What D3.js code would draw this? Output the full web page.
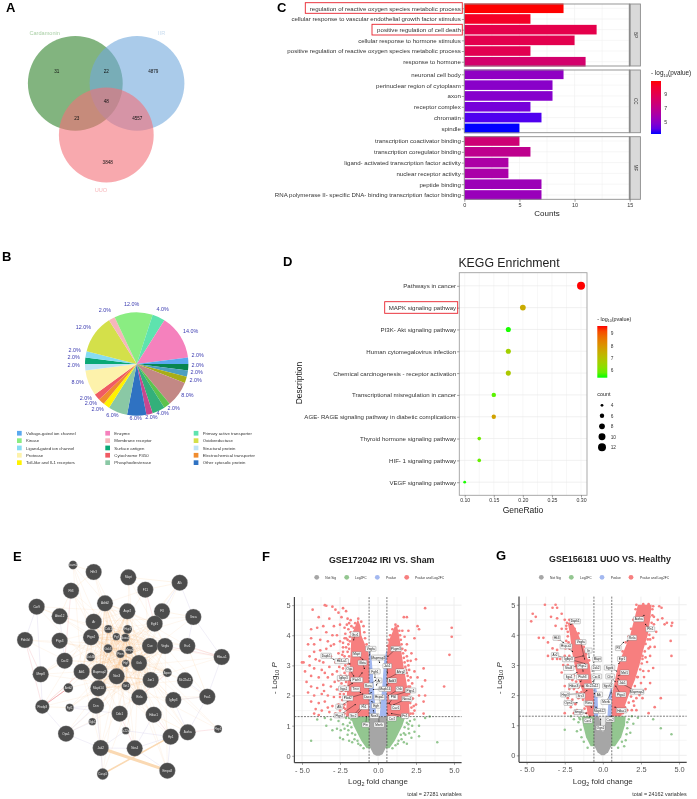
<!DOCTYPE html>
<html>
<head>
<meta charset="utf-8">
<script src="https://cdn.jsdelivr.net/npm/d3@7"></script>
<style>
  html, body { margin: 0; padding: 0; background: #fff; }
  svg { display: block; font-family: "Liberation Sans", Arial, sans-serif; filter: blur(0.3px); }
</style>
</head>
<body>
<script>
// ---- data ----

// A: venn
var vennSets = ["Cardamonin", "IIR", "UUO"];
var vennCounts = [31, 22, 4879, 48, 23, 4557, 3848];

// B: pie (clockwise from 3 o'clock)
var pieNames = ["Surface-2", "Teal", "Olive", "Rosy", "Light green", "Green", "Magenta", "Other cytosolic protein",
  "Phosphodiesterase", "Toll-like and Il-1 receptors", "Electrochemical transporter", "Cytochrome P450", "Protease",
  "Structural protein", "Surface antigen", "Ligand-gated ion channel", "Oxidoreductase", "Membrane receptor",
  "Kinase", "Primary active transporter", "Enzyme", "Voltage-gated ion channel"];
var pieValues = [2, 2, 2, 8, 2, 4, 2, 6, 6, 2, 2, 2, 8, 2, 2, 2, 12, 2, 12, 4, 14, 2];
var pieColors = ["#08854f", "#4d9fc0", "#a8ad17", "#c38885", "#5cc24d", "#33b07a", "#c8478f", "#2f72c2", "#8ac8a5",
  "#fff200", "#f08c2e", "#f05b63", "#fdf2ab", "#bfe3f5", "#0aa876", "#86dcf2", "#d4e04a", "#f6b6bb", "#8aed82",
  "#5ee3ae", "#f581bd", "#5aa9ef"];
var pieLegend = [
  ["Voltage-gated ion channel", "Kinase", "Ligand-gated ion channel", "Protease", "Toll-like and Il-1 receptors"],
  ["Enzyme", "Membrane receptor", "Surface antigen", "Cytochrome P450", "Phosphodiesterase"],
  ["Primary active transporter", "Oxidoreductase", "Structural protein", "Electrochemical transporter", "Other cytosolic protein"]
];

// C: GO bars
var goFacets = ["BP", "CC", "MF"];
var goTerms = [
  ["regulation of reactive oxygen species metabolic process", "cellular response to vascular endothelial growth factor stimulus",
   "positive regulation of cell death", "cellular response to hormone stimulus",
   "positive regulation of reactive oxygen species metabolic process", "response to hormone"],
  ["neuronal cell body", "perinuclear region of cytoplasm", "axon", "receptor complex", "chromatin", "spindle"],
  ["transcription coactivator binding", "transcription coregulator binding", "ligand- activated transcription factor activity",
   "nuclear receptor activity", "peptide binding", "RNA polymerase II- specific DNA- binding transcription factor binding"]
];
var goCounts = [[9, 6, 12, 10, 6, 11], [9, 8, 8, 6, 7, 5], [5, 6, 4, 4, 7, 7]];
var goLogP = [[10.9, 10.2, 9.1, 9.0, 8.9, 8.0], [5.1, 4.9, 4.8, 4.4, 3.7, 3.2], [7.7, 6.9, 6.1, 6.0, 5.5, 5.4]];

// D: KEGG dots
var keggTerms = ["Pathways in cancer", "MAPK signaling pathway", "PI3K- Akt signaling pathway", "Human cytomegalovirus infection",
  "Chemical carcinogenesis -  receptor activation", "Transcriptional misregulation in cancer",
  "AGE- RAGE signaling pathway in diabetic complications", "Thyroid hormone signaling pathway", "HIF- 1 signaling pathway",
  "VEGF signaling pathway"];
var keggRatio = [0.30, 0.20, 0.175, 0.175, 0.175, 0.15, 0.15, 0.125, 0.125, 0.10];
var keggCount = [12, 8, 7, 7, 7, 6, 6, 5, 5, 4];
var keggLogP = [9.6, 7.5, 5.4, 6.6, 6.8, 5.7, 7.7, 5.9, 5.8, 5.4];
var keggCountLegend = [4, 6, 8, 10, 12];

// E: network (layout units)
var netNames = ["Icam1", "Hrh3", "Mapt", "Alk", "F11", "Flt3", "Car9", "Adrb2", "Atox12", "Avpr2", "F3", "Egfr1", "Snca", "Ar",
  "Ptgs4", "Ptgs3", "Pde4d", "Cdk1", "Hsp1", "Pgf", "Noxa1", "Gsk3", "Pten", "Mmp2", "Gsk3b", "Cse", "Vegfa", "Esr1", "Hba-a1",
  "Cxcl2", "Gck", "Hgf", "Akt1", "Mapmap2", "Nos3", "Mmp8", "Apoe", "Jun1", "Slc22a12", "Mapk14", "Arrb2", "Sirt1", "Rela",
  "Igfbp3", "Fas1", "Fgf1", "Prodp3", "Dcn", "Ddc1", "Hdac1", "Sgk1", "Opa1", "Slc22a6", "Aurka", "Fbp1", "Hp1", "Jak2", "Nos4",
  "Empa8", "Casp1"];
var netX = [219, 281, 385, 539, 436, 213, 110, 315, 179, 382, 486, 464, 580, 281, 273, 179, 75, 325, 383, 349, 376, 324, 361, 388,
  272, 450, 495, 562, 665, 194, 417, 377, 245, 298, 350, 122, 502, 452, 555, 295, 205, 378, 418, 520, 622, 209, 127, 288, 359, 461,
  277, 198, 377, 563, 654, 512, 302, 404, 502, 308];
var netY = [165, 186, 202, 218, 239, 242, 290, 280, 319, 304, 304, 341, 321, 335, 382, 392, 390, 357, 358, 380, 383, 416, 432, 420,
  441, 408, 408, 408, 441, 452, 459, 460, 485, 485, 499, 493, 488, 510, 511, 535, 534, 528, 562, 570, 560, 593, 590, 587, 611, 614,
  635, 671, 662, 667, 657, 680, 714, 715, 782, 792];
var netSize = [13, 24, 24, 24, 24, 24, 24, 24, 24, 24, 24, 24, 24, 24, 24, 24, 24, 12, 13, 11, 12, 13, 12, 12, 13, 24, 24, 24, 24,
  24, 24, 11, 24, 24, 24, 24, 13, 24, 24, 24, 14, 13, 24, 24, 24, 12, 21, 24, 24, 24, 11, 24, 11, 24, 12, 24, 24, 24, 24, 17];
var netCore = ["Ptgs4", "Avpr2", "Ar", "Adrb2", "Cse", "Vegfa", "Gck", "Akt1", "Mapmap2", "Nos3", "Jun1", "Mapk14", "Rela", "Cdk1",
  "Hsp1", "Pgf", "Noxa1", "Gsk3", "Pten", "Mmp2", "Hgf", "Sirt1"];
var netPink = [["Prodp3", "Akt1"], ["Prodp3", "Arrb2"], ["Hba-a1", "Esr1"], ["Hba-a1", "Vegfa"], ["Flt3", "Cxcl2"], ["Pde4d", "Mmp8"],
  ["Egfr1", "F11"], ["Apoe", "Rela"], ["Aurka", "Hp1"], ["Aurka", "Fbp1"], ["Ddc1", "Nos4"], ["Hdac1", "Hp1"], ["Pde4d", "Prodp3"]];
var netPurple = [["Car9", "Mmp8"], ["Atox12", "Cxcl2"], ["Mmp8", "Prodp3"], ["Prodp3", "Opa1"], ["Opa1", "Jak2"], ["Fgf1", "Ddc1"],
  ["Fgf1", "Dcn"], ["Jak2", "Nos4"], ["Nos4", "Hdac1"], ["Hp1", "Nos4"], ["Jak2", "Dcn"], ["Opa1", "Dcn"], ["Slc22a6", "Hp1"],
  ["Slc22a6", "Jak2"], ["Sgk1", "Opa1"], ["Snca", "Hba-a1"], ["Esr1", "Snca"], ["Fas1", "Hba-a1"], ["Slc22a12", "Fas1"],
  ["Igfbp3", "Aurka"], ["Fas1", "Aurka"], ["Alk", "F3"], ["Alk", "Snca"], ["Empa8", "Hp1"], ["Jak2", "Casp1"], ["Nos4", "Empa8"],
  ["Car9", "Pde4d"], ["Igfbp3", "Fas1"]];
var netOrange = [["Hrh3", "Icam1"], ["Hrh3", "Flt3"], ["Alk", "F11"], ["Alk", "Mapt"], ["Mapt", "F11"], ["Car9", "Atox12"],
  ["Flt3", "Atox12"], ["Snca", "F3"], ["Esr1", "Fas1"], ["Fas1", "Igfbp3"], ["Hdac1", "Aurka"], ["Mmp8", "Cxcl2"], ["Prodp3", "Fgf1"]];

// F: volcano GSE172042, bands are [logP, lfc from, lfc to]
var fPinkLeft = [[1.3, -2.1, -0.585], [2, -2.05, -0.585], [2.5, -2, -0.585], [3, -1.85, -0.585], [3.4, -1.8, -0.62], [4, -1.75, -1.1], [4.3, -1.5, -1.15], [4.5, -1.35, -1.3]];
var fPinkRight = [[1.3, 0.585, 2.1], [2, 0.585, 2], [2.5, 0.585, 1.85], [3, 0.585, 1.67], [3.4, 0.6, 1.55], [3.8, 0.7, 1.45], [4.1, 0.95, 1.35], [4.3, 1.1, 1.25]];
var fBlueLeft = [[1.3, -0.585, -0.1], [1.8, -0.585, -0.2], [2.3, -0.585, -0.28], [2.8, -0.585, -0.35], [3.2, -0.585, -0.42], [3.5, -0.585, -0.55]];
var fBlueRight = [[1.3, 0.1, 0.585], [1.8, 0.2, 0.585], [2.3, 0.28, 0.585], [2.8, 0.35, 0.585], [3.2, 0.42, 0.585], [3.5, 0.55, 0.585]];
var fGreenLeft = [[0.25, -0.75, -0.45], [0.5, -1.1, -0.5], [0.8, -1.4, -0.5], [1, -1.6, -0.5], [1.3, -1.8, -0.5]];
var fGreenRight = [[0.25, 0.45, 0.75], [0.5, 0.5, 1.1], [0.8, 0.5, 1.4], [1, 0.5, 1.6], [1.3, 0.5, 1.8]];
var fGrey = [[0, -0.1, 0.1], [0.05, -0.3, 0.3], [0.2, -0.45, 0.45], [0.4, -0.585, 0.585], [1.3, -0.585, 0.585]];
var fUp = [[-4.3, 4.85], [-3.5, 5], [-3.4, 4.98], [-3, 4.95], [-2.8, 4.85], [-2.6, 4.75], [-2.3, 4.9], [-2.1, 4.8], [-2.4, 4.6], [-2, 4.55],
  [-3.2, 4.55], [-3.9, 4.6], [-4, 4.25], [-4.4, 4.2], [-3.6, 4.3], [-2.9, 4.3], [-2.5, 4.35], [-2.2, 4.25], [-1.8, 4.5], [-3.4, 4.1], [-3, 4],
  [-2.7, 4], [-4.4, 3.9], [-4.2, 3.7], [-3.8, 3.85], [-3.3, 3.8], [-2.9, 3.7], [-2.5, 3.8], [-2.2, 3.9], [-4.6, 3.7], [-4.2, 3.45], [-3.8, 3.5],
  [-3.4, 3.55], [-2.6, 3.4], [-2.3, 3.6], [-4.5, 3.3], [-4.1, 3.2], [-3.6, 3.1], [-3.1, 3.3], [-2.8, 3.1], [-4.9, 3.1], [-4.5, 3], [-4.2, 2.9],
  [-3.7, 2.85], [-3.2, 2.95], [-2.7, 2.8], [-5, 3.1], [-4.8, 2.8], [-4.4, 2.65], [-3.9, 2.6], [-3.3, 2.6], [-3, 2.7], [-2.6, 2.5], [-4.7, 2.45],
  [-4.4, 2.3], [-4, 2.25], [-3.6, 2.35], [-3.1, 2.3], [-2.7, 2.2], [-4.6, 2.1], [-4.2, 2], [-3.7, 2.05], [-3.3, 2], [-2.9, 1.95], [-2.5, 2.05],
  [-4.4, 1.8], [-3.9, 1.75], [-3.5, 1.8], [-3, 1.65], [-2.6, 1.7], [-4.1, 1.55], [-3.7, 1.5], [-3.2, 1.45], [-2.8, 1.4], [-2.5, 1.5], [-4.2, 1.4],
  [-3.9, 1.35], [-2.4, 3.1], [-2.3, 2.9], [-2.2, 3.3], [-2.1, 3.6], [-2, 3.85], [-2.4, 2.4], [-2.3, 2.2], [-2.35, 1.85], [-2.25, 1.6], [-3.5, 2.75],
  [-3.85, 3.15], [-3.1, 3.65], [-3.3, 1.6], [-3.55, 2.15], [-2.85, 2.45], [-2.55, 2.95], [-2.15, 4.05], [-1.95, 4.2], [-1.75, 4.3],
  [3.1, 4.9], [4.85, 4.25], [4.85, 3.95], [4.7, 3.35], [2.6, 4.3], [2.7, 4.2], [1.9, 4.6], [1.7, 4.6], [2, 4.15], [2.4, 3.9], [1.9, 3.7], [2.2, 3.4],
  [2.5, 3.2], [3, 2.9], [2, 3], [2.4, 2.8], [2.6, 2.6], [3.1, 2.5], [4.35, 2.3], [2.9, 2.3], [2.3, 2.2], [2.7, 2], [3.1, 2], [2.5, 1.7], [2, 1.8],
  [3, 1.8], [2.4, 1.5], [3, 1.4], [1.9, 3.3], [1.75, 3.95], [1.6, 4.15], [2.15, 2.6], [2.1, 2.3], [2.3, 1.4], [2.15, 3.15], [1.85, 2.85]];
// fringe of the dense part of F
var fFringe = [[-2.2, 1.4], [-2.15, 1.55], [-2.2, 1.7], [-2.15, 1.9], [-2.25, 2.05], [-2.12, 2.15], [-2.2, 2.3], [-2.1, 2.45], [-2.25, 2.55], [-2.1, 2.65],
  [-2.2, 2.75], [-2.05, 2.85], [-2.15, 3], [-1.95, 3.05], [-2.05, 3.2], [-1.9, 3.3], [-2, 3.45], [-1.9, 3.55], [-1.95, 3.7], [-1.85, 3.8], [-1.85, 3.95],
  [-1.8, 4.1], [-1.6, 4.25], [-1.5, 4.4], [-1.3, 4.55], [-2.4, 1.3], [-2.45, 1.65], [-2.5, 1.95], [-2.4, 2.15], [-2.45, 2.65], [-2.35, 3.35], [-2.3, 3.45], [-2.55, 3.2],
  [-2.1, 3.9], [-2.3, 3.75], [-2.05, 4.35], [-1.9, 4.4], [-0.9, 4.1], [-0.85, 3.9], [-0.75, 3.7], [-0.95, 4.3], [-1.1, 4.45],
  [2.15, 1.4], [2.2, 1.6], [2.12, 1.75], [2.2, 1.9], [2.05, 2.05], [2.15, 2.15], [2, 2.3], [2, 2.5], [1.95, 2.65], [1.9, 2.75], [1.8, 2.95], [1.75, 3.1], [1.7, 3.25],
  [1.65, 3.4], [1.6, 3.55], [1.55, 3.7], [1.5, 3.85], [1.45, 4], [1.4, 4.15], [1.3, 4.3], [1.15, 4.35], [0.95, 4.2], [0.8, 4], [0.7, 3.85], [0.65, 3.65],
  [2.35, 1.65], [2.3, 1.9], [2.25, 2.4], [2.05, 2.85], [1.95, 3.15], [1.8, 3.5]];
var fNone = [[-4.4, 0.5], [3.9, 0.45], [-4, 1.2], [-3.5, 1.25], [-3.1, 1.2], [-3, 0.85], [-3.4, 1], [-2.7, 0.9], [-2.5, 0.6], [-2.3, 0.55],
  [-2.6, 1.15], [-2.2, 0.9], [-2, 0.7], [-1.85, 1.1], [-1.9, 0.5], [2.4, 1.2], [2.7, 1], [2.4, 0.8], [2.2, 0.6], [2.7, 0.65], [3.1, 1.25],
  [3.4, 1.3], [2, 0.9], [1.9, 0.4], [1.8, 0.7], [2.1, 1.15], [-2.1, 1.25], [-1.7, 0.45], [1.7, 0.45],
  [-1.9, 1.25], [-2, 1], [-1.75, 0.95], [-1.7, 0.75], [-1.5, 0.7], [-1.35, 0.5], [-1.55, 0.55], [-1.15, 0.35], [-1.3, 0.4], [-0.95, 0.25],
  [-2.3, 1.05], [-2.45, 0.85], [-1.95, 0.85], [-1.75, 1.2],
  [1.9, 1.25], [2, 1.05], [1.75, 0.95], [1.7, 0.75], [1.5, 0.7], [1.35, 0.5], [1.55, 0.55], [1.15, 0.35], [1.3, 0.4], [0.95, 0.25], [2.25, 1], [2.05, 0.75], [1.9, 1.1]];
var fNames = ["Gsr1", "Vegfa", "Mapt", "Pkgm3", "Mapmap2", "Dapk1", "Hif4-a1", "Gbta", "Jak1", "Oga", "Fgfr1", "Ahrg2", "Igfbp3", "Ptafr3", "Ar",
  "Add3", "Rora", "Itga1", "Tnxr", "Mapk14", "Osk", "Ptgs1", "Plod2", "Daxx", "Hspa1", "Pfkl", "Noxa1", "Alk", "Fli1", "Egfr", "Cav1", "Ptgs2", "Src2",
  "Nos3", "Fn1", "Ccr2", "Ptn", "Mertk"];
var fLabelX = [-1.51, -0.48, -1.4, 1.18, 0.02, -3.41, -2.39, -1.03, 0.61, -1.88, -0.2, 1.51, -2.28, -1.4, 0.07, 0.94, -0.63, -2.25, -1.47, 0.46, 1.4, 2.14,
  -1.99, -0.68, 0.09, 1.01, 1.9, -2.54, -0.92, -0.13, 1.16, -2.54, -1.62, -0.24, 1.77, 0.92, -0.81, 0.07];
var fLabelY = [4.03, 3.55, 3.37, 3.55, 3.26, 3.32, 3.14, 3.09, 2.98, 2.87, 2.8, 2.8, 2.58, 2.52, 2.5, 2.5, 2.33, 2.23, 2.21, 2.22, 2.22, 2.17,
  1.91, 1.96, 1.94, 1.94, 1.89, 1.63, 1.62, 1.66, 1.6, 1.34, 1.34, 1.32, 1.32, 1.24, 1.03, 1.03];
var fTargetX = [-1.6, -0.55, -1.0, 0.65, 0.1, -2.9, -1.85, -0.9, 0.62, -1.6, -0.2, 0.6, -1.8, -1.05, -0.1, 0.58, -0.15, -1.7, -1.15, -0.3, 0.7, 0.75,
  -1, -0.45, 0.15, 0.75, 1.05, -1.85, -1.45, -0.4, 0.65, -1.5, -0.95, -0.3, 0.9, 0.6, -0.75, 0.05];
var fTargetY = [3.85, 3.35, 3.2, 3.3, 3.1, 3.2, 3.05, 2.9, 2.75, 2.65, 2.6, 2.55, 2.5, 2.75, 2.35, 2.35, 2.5, 2.4, 2.1, 2.2, 2, 1.95,
  2.05, 2.1, 1.75, 1.75, 1.7, 1.85, 1.35, 1.8, 1.75, 1.7, 1.7, 1.5, 1.4, 1.4, 1.3, 1.3];

// G: volcano GSE156181
var gPinkLeft = [[1.3, -0.95, -0.585], [2, -1.25, -0.585], [2.5, -1.6, -0.75], [3, -1.85, -0.85], [3.5, -2.05, -1.2], [4, -2.15, -1.6], [4.4, -2.3, -2]];
var gPinkRight = [[1.3, 0.585, 1.2], [2, 0.6, 1.7], [2.5, 0.8, 2.1], [3, 1, 2.4], [3.5, 1.4, 2.65], [4, 1.8, 2.95], [4.5, 2.05, 3.1], [5, 2.3, 3.2]];
var gBlueLeft = [[1.3, -0.585, -0.3], [2, -0.585, -0.35], [2.4, -0.62, -0.5]];
var gBlueRight = [[1.3, 0.3, 0.585], [2, 0.4, 0.585], [2.3, 0.55, 0.6]];
var gGreenLeft = [[0.3, -0.8, -0.5], [0.6, -1.1, -0.5], [1, -1.3, -0.5], [1.3, -1.4, -0.5]];
var gGreenRight = [[0.3, 0.5, 0.8], [0.6, 0.5, 1.2], [1, 0.5, 1.45], [1.3, 0.5, 1.5]];
var gGrey = [[0, -0.1, 0.1], [0.1, -0.35, 0.35], [0.3, -0.55, 0.55], [0.6, -0.585, 0.585], [1.3, -0.585, 0.585]];
var gWedge = [[0.8, -0.05, 0.05], [1.3, -0.25, 0.25], [1.31, -0.3, 0.3]];
var gUp = [[-4.6, 4.7], [-4.4, 4.6], [-4.7, 4.45], [-3.8, 5], [-3.3, 4.9], [-3.1, 5], [-3, 4.9], [-3.4, 4.6], [-3, 4.55], [-2.7, 4.7], [-2.5, 4.5],
  [-3.1, 4.3], [-2.7, 4.2], [-4.2, 3.9], [-3.9, 3.9], [-3.6, 3.75], [-3.2, 3.9], [-2.9, 3.85], [-3.3, 3.55], [-3, 3.5], [-2.7, 3.6], [-2.4, 3.8],
  [-3.6, 3.3], [-3.3, 3.2], [-3, 3.2], [-2.8, 3.2], [-2.5, 3.3], [-2.6, 3], [-2.4, 2.9], [-2.3, 3], [-2.1, 2.85], [-2.7, 2.75], [-2.4, 2.6], [-2.2, 2.55],
  [-2, 2.5], [-2.5, 2.3], [-2.2, 2.2], [-1.9, 2.2], [-1.7, 2.1], [-2.3, 1.9], [-2, 1.85], [-1.8, 1.7], [-1.6, 1.9], [-2.1, 1.6], [-1.7, 1.5], [-2.5, 1.4],
  [-1.9, 1.4], [-1.5, 1.4], [-2.4, 4.2], [-2.35, 4.4], [-2.45, 3.55],
  [3.3, 4.95], [3.7, 4.95], [3.85, 4.9], [4.5, 4.3], [4.55, 4.4], [4.2, 4.4], [4.05, 4.35], [3.9, 4.55], [3.35, 4.6], [3.6, 4.5], [3.25, 4.2], [3.5, 4.1],
  [4.45, 3.8], [3.3, 3.9], [3.1, 3.6], [3.4, 3.6], [3.1, 3.3], [4.5, 3.3], [2.9, 3.1], [3.3, 2.9], [2.6, 3.2], [3, 2.8], [2.7, 2.6], [2.3, 2.6], [2.5, 2.4],
  [2.8, 2.2], [3.1, 2.4], [3.8, 1.9], [2.4, 2], [2.2, 1.9], [2, 1.8], [2.6, 1.9], [1.9, 1.5], [2.2, 1.5], [3, 1.4], [1.6, 1.5], [3.4, 1.6], [3.25, 4.85], [3.05, 4.6]];
// fringe of the dense part of G
var gFringe = [[-1.05, 1.4], [-1.1, 1.65], [-1.3, 1.85], [-1.4, 2.1], [-1.6, 2.25], [-1.75, 2.45], [-1.9, 2.65], [-2, 2.9], [-2.05, 3.15], [-2.2, 3.3], [-2.2, 3.55],
  [-2.25, 3.75], [-2.3, 3.95], [-2.3, 4.1], [-2.4, 4.3], [-2.2, 4.5], [-2.05, 4.45], [-1.85, 4.2], [-1.6, 4.05], [-1.45, 3.8], [-1.25, 3.6], [-1.1, 3.35], [-0.9, 3.15],
  [-1.55, 2.05], [-1.2, 1.55], [-1.85, 2.25], [-2.1, 2.65], [-1.95, 3.2],
  [1.3, 1.4], [1.45, 1.6], [1.7, 1.75], [1.85, 1.95], [1.95, 2.15], [2.1, 2.3], [2.25, 2.6], [2.45, 2.85], [2.55, 3.05], [2.6, 3.3], [2.75, 3.45], [2.8, 3.7], [2.95, 3.85],
  [3.05, 4], [3.15, 4.2], [3.2, 4.4], [3.25, 4.65], [2.15, 4.85], [2.2, 5], [2.65, 5.02], [3, 5.02], [2, 4.5], [1.85, 4.2], [1.7, 3.95], [1.5, 3.75], [1.3, 3.45], [1.1, 3.2],
  [2.3, 2.1], [2.05, 1.65], [2.65, 2.8], [2.8, 3.25], [3, 3.55], [3.1, 3.85], [3.35, 4.35]];
var gNone = [[-2.5, 0.85], [-1.9, 1.2], [-2.1, 1.3], [-1.6, 1.1], [-1.7, 0.8], [-1.4, 0.6], [-1.5, 1.2], [1.6, 0.9], [1.8, 0.75], [1.5, 0.5], [2, 1.05],
  [2.3, 1.25], [3.3, 1.2], [3.8, 0.9], [4.5, 0.7], [1.7, 1.2], [1.9, 1.3], [1.4, 0.3], [-1.25, 0.45], [-1.45, 0.85], [-1.55, 1.25], [-1, 0.25], [1, 0.25], [1.25, 0.45], [1.55, 0.7], [1.6, 1.1]];
var gNames = ["Dapk1", "Aurka", "Pln1", "Hk3", "Hsp-a1", "Vegfa", "Rela", "F3", "Itr", "Mapt", "Ar2", "Igfbp3", "Egr1", "Ptgs2", "Jak2", "Stat3", "Itga1",
  "Ptafr3", "Cxcl1", "Sgstk", "Mef1", "Cfsr", "Jak1", "Hdac3", "Slc22a12", "Sgsh2", "Mapmap2", "Ptgs4", "Hsp3", "Src3", "Atk", "Opn1", "Rora", "Mertk",
  "Smg4", "Mapk12", "Hdac1", "Cav1", "Cav2", "Ogn1"];
var gLabelX = [-1.82, 2.35, 3.11, -3.03, -2.41, -1.45, 1.93, 1.01, -0.94, -0.37, -3.14, -2.26, 1.25, -1.34, -0.44, -2.24, -2.21, -1.34, -0.42, 0.44, 1.43,
  0.48, 1.29, -1.91, -0.72, 0.33, 2.24, 1.18, -2.48, -1.45, -0.26, -2.26, -0.94, 0.22, -1.6, -0.22, 1.23, -0.98, 0.48, -0.15];
var gLabelY = [4.45, 4.52, 4.19, 3.9, 3.62, 3.76, 3.9, 3.56, 3.48, 3.19, 3.33, 3.19, 3.2, 2.96, 2.9, 2.9, 2.61, 2.6, 2.62, 2.91, 2.75, 2.62, 2.41, 2.31, 2.3,
  2.31, 2.11, 2.02, 2.02, 1.98, 2.02, 1.74, 1.73, 1.77, 1.44, 1.47, 1.49, 1.15, 1.19, 0.91];
var gTargetX = [-2.1, 2.7, 2.8, -2.6, -2, -1.2, 1.6, 1.35, -0.9, -0.6, -1.2, -1.3, 1.05, -1.3, -0.7, -1.5, -1.7, -1.45, -0.65, 0.9, 1.05, 0.8, 1, -1.3, -0.6,
  0.55, 1, 0.85, -1.45, -1.05, -0.55, -1.7, -0.75, 0.55, -1.1, -0.45, 0.8, -0.85, 0.55, -0.15];
var gTargetY = [4.35, 4.65, 4.35, 3.75, 3.45, 3.2, 3.8, 3.75, 3.25, 3.1, 3.05, 3.3, 3.05, 2.8, 2.8, 3, 2.75, 2.45, 2.45, 2.8, 2.65, 2.45, 2.55, 2.3, 2.4, 2.4,
  2.45, 2.3, 2.05, 2.15, 2.05, 1.75, 1.6, 2.1, 1.4, 1.6, 1.6, 1.3, 1.3, 1.2];

var volcanoLegend = ["Not Sig", "Log2FC", "Pvalue", "Pvalue and Log2FC"];
var volcanoColors = ["#a6a6a6", "#93c690", "#a3b8f0", "#f77f7f"];

// ---- helpers ----
var w = 697, h = 799;
var svg = d3.select("body").append("svg").attr("width", w).attr("height", h);

function addText(g, x, y, str, size, color, anchor, weight) {
  return g.append("text").attr("x", x).attr("y", y).text(str)
    .attr("font-size", size).attr("fill", color || "#333")
    .attr("text-anchor", anchor || "start").attr("font-weight", weight || null);
}
function logTitle(g, x, y, size) {
  var t = g.append("text").attr("x", x).attr("y", y).attr("font-size", size).attr("fill", "#222");
  t.append("tspan").text("- log");
  t.append("tspan").text("10").attr("font-size", size * 0.65).attr("dy", 1.5);
  t.append("tspan").text("(pvalue)").attr("dy", -1.5);
}
function gradientBar(id, low, high, x, y, bw, bh) {
  var grad = svg.append("defs").append("linearGradient").attr("id", id)
    .attr("x1", 0).attr("y1", 1).attr("x2", 0).attr("y2", 0);
  d3.range(0, 1.01, 0.1).forEach(function(t) {
    grad.append("stop").attr("offset", t).attr("stop-color", d3.interpolateLab(low, high)(t));
  });
  svg.append("rect").attr("x", x).attr("y", y).attr("width", bw).attr("height", bh).attr("fill", "url(#" + id + ")");
}
function styleAxis(sel, size, color) {
  sel.selectAll(".domain").remove();
  sel.selectAll("line").attr("stroke", "#444").attr("stroke-width", 0.5);
  sel.selectAll("text").attr("font-size", size).attr("fill", color || "#333").attr("font-family", "inherit");
}

// panel letters
[["A", 6, 12], ["B", 2, 261], ["C", 277, 12], ["D", 283, 266], ["E", 13, 561], ["F", 262, 561], ["G", 496, 560]].forEach(function(d) {
  addText(svg, d[1], d[2], d[0], 13, "#000", "start", "bold");
});

// ---- A venn ----
var venn = svg.append("g");
var vennX = [75.3, 137, 106.3], vennY = [83.3, 83.3, 135], vennFill = ["#2f822a", "#71a8dc", "#f37078"], vennText = ["#a9cfa5", "#c9dcef", "#f7b6ba"];
vennSets.forEach(function(s, i) {
  venn.append("circle").attr("cx", vennX[i]).attr("cy", vennY[i]).attr("r", 47.4).attr("fill", vennFill[i]).attr("fill-opacity", 0.6);
});
var vennLabelPos = [[44.7, 35], [161.7, 35], [101, 191.5]];
vennSets.forEach(function(s, i) {
  addText(venn, vennLabelPos[i][0], vennLabelPos[i][1], s, 5.6, vennText[i], "middle");
});
var vennCountPos = [[56.7, 72.8], [106.3, 72.8], [153.3, 72.8], [106.3, 102.5], [76.7, 120], [137.3, 120], [107.7, 163.8]];
vennCounts.forEach(function(c, i) {
  addText(venn, vennCountPos[i][0], vennCountPos[i][1], c, 4.6, "#111", "middle");
});

// ---- B pie ----
var pieG = svg.append("g").attr("transform", "translate(136.7,364)");
var pie = d3.pie().sort(null).startAngle(Math.PI / 2).endAngle(Math.PI * 2.5);
var arc = d3.arc().innerRadius(0).outerRadius(51.7);
pieG.selectAll("path").data(pie(pieValues)).enter().append("path")
  .attr("d", arc).attr("fill", function(d, i) { return pieColors[i]; });

var pieLabelPos = [[197.7, 367], [196.7, 374.3], [195.7, 381.7], [187.3, 397.3], [173.7, 410], [162.7, 415], [151.3, 418.7], [135.7, 420.3], [112.3, 417],
  [97.7, 411], [91, 405.4], [86, 399.8], [77.7, 384.3], [73.7, 367], [73.7, 359.3], [74.7, 352], [83.3, 328.7], [105, 312], [131.7, 305.7], [162.7, 310.7],
  [190.7, 332.7], [197.7, 357.3]];
pieValues.forEach(function(v, i) {
  addText(svg, pieLabelPos[i][0], pieLabelPos[i][1], v.toFixed(1) + "%", 5.4, "#3a3ab0", "middle");
});

var legendColX = [17, 105.3, 193.7], legendRowY = [433.3, 440.7, 448, 455.3, 462.7];
pieLegend.forEach(function(col, c) {
  col.forEach(function(name, r) {
    svg.append("rect").attr("x", legendColX[c]).attr("y", legendRowY[r] - 2.4).attr("width", 4.7).attr("height", 4.7)
      .attr("fill", pieColors[pieNames.indexOf(name)]);
    addText(svg, legendColX[c] + 9, legendRowY[r] + 1.5, name, 4.3, "#333");
  });
});

// ---- C bars ----
var goX = d3.scaleLinear().domain([0, 15]).range([464.3, 629.7]);
var goColor = d3.scaleLinear().domain([3.2, 10.9]).range(["#0000ff", "#ff0000"]).interpolate(d3.interpolateLab);
var goTop = [4, 70, 136.7], goBottom = [66, 132.7, 199.3];

goFacets.forEach(function(facet, f) {
  var y = d3.scalePoint().domain(goTerms[f]).range([goTop[f], goBottom[f]]).padding(0.4);
  var g = svg.append("g");
  g.selectAll(".grid").data(d3.range(0, 15.1, 2.5)).enter().append("line")
    .attr("x1", goX).attr("x2", goX).attr("y1", goTop[f]).attr("y2", goBottom[f])
    .attr("stroke", "#ededed").attr("stroke-width", 0.5);
  goTerms[f].forEach(function(term, i) {
    g.append("line").attr("x1", goX(0)).attr("x2", goX(15)).attr("y1", y(term)).attr("y2", y(term)).attr("stroke", "#ededed").attr("stroke-width", 0.5);
    g.append("rect").attr("x", goX(0)).attr("y", y(term) - 4.8).attr("height", 9.6)
      .attr("width", goX(goCounts[f][i]) - goX(0)).attr("fill", goColor(goLogP[f][i]));
  });
  var ax = g.append("g").attr("transform", "translate(" + goX(0) + ",0)").call(d3.axisLeft(y).tickSize(2.5).tickPadding(1));
  styleAxis(ax, 6.1);
  g.append("rect").attr("x", goX(0)).attr("y", goTop[f]).attr("width", goX(15) - goX(0)).attr("height", goBottom[f] - goTop[f])
    .attr("fill", "none").attr("stroke", "#8c8c8c").attr("stroke-width", 0.9);
  g.append("rect").attr("x", goX(15)).attr("y", goTop[f]).attr("width", 10.7).attr("height", goBottom[f] - goTop[f])
    .attr("fill", "#d9d9d9").attr("stroke", "#8c8c8c").attr("stroke-width", 0.9);
  g.append("line").attr("x1", goX(15)).attr("x2", goX(15)).attr("y1", goTop[f]).attr("y2", goBottom[f]).attr("stroke", "#8c8c8c").attr("stroke-width", 1.8);
  var cy = (goTop[f] + goBottom[f]) / 2;
  g.append("text").attr("transform", "translate(633.5," + cy + ") rotate(90)").attr("text-anchor", "middle")
    .attr("font-size", 4.5).attr("fill", "#333").text(facet);
});
var goAxis = svg.append("g").attr("transform", "translate(0,199.3)")
  .call(d3.axisBottom(goX).tickValues([0, 5, 10, 15]).tickSize(2.5).tickPadding(1.5));
styleAxis(goAxis, 5.5);
addText(svg, goX(7.5), 216, "Counts", 8, "#222", "middle");
logTitle(svg, 651, 75, 6.4);
gradientBar("goBar", "#0000ff", "#ff0000", 651, 81, 10, 53);
[[9, 96], [7, 109.7], [5, 123.7]].forEach(function(d) { addText(svg, 664.3, d[1], d[0], 5.2, "#333"); });

function redBox(x, y, bw, bh) {
  svg.append("rect").attr("x", x).attr("y", y).attr("width", bw).attr("height", bh)
    .attr("fill", "none").attr("stroke", "#e8212b").attr("stroke-width", 0.9);
}
redBox(305.3, 2.7, 157, 10.6);
redBox(372, 24.3, 90.3, 10.7);

// ---- D dots ----
var dLeft = 459.3, dRight = 587, dTop = 272.7, dBottom = 495.3;
var keggX = d3.scaleLinear().domain([0.0907, 0.3103]).range([dLeft, dRight]);
var keggY = d3.scalePoint().domain(keggTerms).range([dTop, dBottom]).padding(0.6);
var keggColor = d3.scaleLinear().domain([5.37, 9.6]).range(["#00ff00", "#ff0000"]).interpolate(d3.interpolateLab);
var keggR = d3.scaleSqrt().domain([4, 12]).range([1.4, 4]);

var dG = svg.append("g");
d3.range(0.1, 0.301, 0.025).forEach(function(t) {
  dG.append("line").attr("x1", keggX(t)).attr("x2", keggX(t)).attr("y1", dTop).attr("y2", dBottom).attr("stroke", "#eeeeee").attr("stroke-width", 0.5);
});
keggTerms.forEach(function(t) {
  dG.append("line").attr("x1", dLeft).attr("x2", dRight).attr("y1", keggY(t)).attr("y2", keggY(t)).attr("stroke", "#e8e8e8").attr("stroke-width", 0.6);
});
dG.selectAll("circle").data(keggTerms).enter().append("circle")
  .attr("cx", function(d, i) { return keggX(keggRatio[i]); })
  .attr("cy", function(d) { return keggY(d); })
  .attr("r", function(d, i) { return keggR(keggCount[i]); })
  .attr("fill", function(d, i) { return keggColor(keggLogP[i]); });
dG.append("rect").attr("x", dLeft).attr("y", dTop).attr("width", dRight - dLeft).attr("height", dBottom - dTop)
  .attr("fill", "none").attr("stroke", "#a0a0a0").attr("stroke-width", 0.9);
styleAxis(dG.append("g").attr("transform", "translate(" + dLeft + ",0)").call(d3.axisLeft(keggY).tickSize(2.2).tickPadding(1)), 6.1);
styleAxis(dG.append("g").attr("transform", "translate(0," + dBottom + ")")
  .call(d3.axisBottom(keggX).tickValues([0.1, 0.15, 0.2, 0.25, 0.3]).tickFormat(d3.format(".2f")).tickSize(2.2).tickPadding(1)), 5.2);
addText(svg, 509, 266.7, "KEGG Enrichment", 12.3, "#222", "middle");
addText(svg, 523, 512.5, "GeneRatio", 8.5, "#222", "middle");
svg.append("text").attr("transform", "translate(302,383) rotate(-90)").attr("text-anchor", "middle")
  .attr("font-size", 8.5).attr("fill", "#222").text("Description");
redBox(384.7, 301.7, 73, 11.6);

logTitle(svg, 597.3, 320.7, 5.4);
gradientBar("keggBar", "#00ff00", "#ff0000", 597.3, 326, 10, 51.7);
[[9, 335], [8, 347.5], [7, 359.5], [6, 371.7]].forEach(function(d) { addText(svg, 610.7, d[1], d[0], 4.8, "#333"); });
addText(svg, 597.3, 396, "count", 5.4, "#222");
var countLegendY = d3.scalePoint().domain(keggCountLegend).range([405.3, 447.3]);
keggCountLegend.forEach(function(c) {
  svg.append("circle").attr("cx", 602).attr("cy", countLegendY(c)).attr("r", keggR(c)).attr("fill", "#000");
  addText(svg, 610.7, countLegendY(c) + 1.7, c, 4.8, "#333");
});

// ---- E network ----
var netSx = d3.scaleLinear().domain([0, 780]).range([0, 260]);
var netSy = d3.scaleLinear().domain([0, 840]).range([510, 790]);
function nodeX(n) { return netSx(netX[netNames.indexOf(n)]); }
function nodeY(n) { return netSy(netY[netNames.indexOf(n)]); }
var netG = svg.append("g");
function drawEdges(list, color, width, op) {
  netG.append("g").selectAll("line").data(list).enter().append("line")
    .attr("x1", function(d) { return nodeX(d[0]); }).attr("y1", function(d) { return nodeY(d[0]); })
    .attr("x2", function(d) { return nodeX(d[1]); }).attr("y2", function(d) { return nodeY(d[1]); })
    .attr("stroke", color).attr("stroke-width", width).attr("stroke-opacity", op);
}
// inner nodes link to most of the core, outer nodes only to a few
var coreEdges = [];
netNames.forEach(function(n, i) {
  var near = Math.hypot(netX[i] - 370, netY[i] - 440) < 170;
  netCore.forEach(function(c, j) {
    if (n !== c && (i + j) % (near ? 2 : 7) == 0) coreEdges.push([n, c]);
  });
});
drawEdges(coreEdges, "#f5b56c", 0.35, 0.3);
drawEdges(netOrange, "#f7c48a", 0.4, 0.45);
drawEdges(netPurple, "#b8b0dc", 0.4, 0.5);
drawEdges(netPink, "#ee8f96", 0.5, 0.45);
drawEdges([["Jak2", "Empa8"]], "#fad9b3", 3, 1);
drawEdges([["Hp1", "Casp1"]], "#fad9b3", 1.6, 1);
drawEdges([["Prodp3", "Arrb2"]], "#f0a0a4", 1, 0.8);
var nodes = netG.selectAll(".node").data(netNames).enter().append("g").attr("class", "node")
  .attr("transform", function(d) { return "translate(" + nodeX(d) + "," + nodeY(d) + ")"; });
nodes.append("circle").attr("r", function(d, i) { return netSize[i] / 3; })
  .attr("fill", "#4c4c4c").attr("stroke", "#b5b5b5").attr("stroke-width", 0.3);
nodes.append("text").attr("text-anchor", "middle").attr("dy", 1).attr("font-size", 3).attr("fill", "#e8e8e8").text(function(d) { return d; });

// ---- F, G volcanoes ----
function drawVolcano(cfg) {
  var x = d3.scaleLinear().domain([-5.5, 5.5]).range(cfg.xRange);
  var y = d3.scaleLinear().domain([-0.23, 5.27]).range(cfg.yRange);
  var g = svg.append("g");
  var top = cfg.yRange[1], bottom = cfg.yRange[0], left = cfg.xRange[0], right = cfg.xRange[1];

  d3.range(-5, 5.01, 1.25).forEach(function(t, i) {
    g.append("line").attr("x1", x(t)).attr("x2", x(t)).attr("y1", top).attr("y2", bottom)
      .attr("stroke", "#ececec").attr("stroke-width", i % 2 ? 0.5 : 0.9);
  });
  d3.range(0, 5.01, 0.5).forEach(function(t, i) {
    g.append("line").attr("x1", left).attr("x2", right).attr("y1", y(t)).attr("y2", y(t))
      .attr("stroke", "#ececec").attr("stroke-width", i % 2 ? 0.5 : 0.9);
  });

  var band = d3.area().curve(d3.curveLinear)
    .y(function(d) { return y(d[0]); })
    .x0(function(d) { return x(d[1]); })
    .x1(function(d) { return x(d[2]); });
  function fillBand(data, color) { g.append("path").attr("d", band(data)).attr("fill", color); }

  g.selectAll(".dim").data(cfg.none).enter().append("circle")
    .attr("cx", function(d) { return x(d[0]); }).attr("cy", function(d) { return y(d[1]); }).attr("r", 1.25).attr("fill", volcanoColors[1]);
  g.selectAll(".hit").data(cfg.up.concat(cfg.fringe)).enter().append("circle")
    .attr("cx", function(d) { return x(d[0]); }).attr("cy", function(d) { return y(d[1]); }).attr("r", 1.35).attr("fill", volcanoColors[3]);

  cfg.green.forEach(function(b) { fillBand(b, volcanoColors[1]); });
  fillBand(cfg.grey, volcanoColors[0]);
  if (cfg.wedge) fillBand(cfg.wedge, "#e8e8e8");
  cfg.blue.forEach(function(b) { fillBand(b, volcanoColors[2]); });
  cfg.pink.forEach(function(b) { fillBand(b, volcanoColors[3]); });

  [-0.585, 0.585].forEach(function(t) {
    g.append("line").attr("x1", x(t)).attr("x2", x(t)).attr("y1", top).attr("y2", bottom)
      .attr("stroke", "#444").attr("stroke-width", 0.7).attr("stroke-dasharray", "2,1.2");
  });
  g.append("line").attr("x1", left).attr("x2", right).attr("y1", y(1.3)).attr("y2", y(1.3))
    .attr("stroke", "#444").attr("stroke-width", 0.7).attr("stroke-dasharray", "2,1.2");

  // gene labels
  cfg.names.forEach(function(n, i) {
    g.append("line").attr("x1", x(cfg.lx[i])).attr("y1", y(cfg.ly[i])).attr("x2", x(cfg.tx[i])).attr("y2", y(cfg.ty[i]))
      .attr("stroke", "#111").attr("stroke-width", 0.4);
    g.append("circle").attr("cx", x(cfg.tx[i])).attr("cy", y(cfg.ty[i])).attr("r", 0.6).attr("fill", "#111");
  });
  cfg.names.forEach(function(n, i) {
    var bw = n.length * 1.6 + 2.5;
    g.append("rect").attr("x", x(cfg.lx[i]) - bw / 2).attr("y", y(cfg.ly[i]) - 2.5).attr("width", bw).attr("height", 5).attr("rx", 0.6)
      .attr("fill", "#f8f8f8").attr("stroke", "#555").attr("stroke-width", 0.3);
    addText(g, x(cfg.lx[i]), y(cfg.ly[i]) + 1.15, n, 3.1, "#222", "middle");
  });

  var xAxis = g.append("g").attr("transform", "translate(0," + bottom + ")")
    .call(d3.axisBottom(x).tickValues([-5, -2.5, 0, 2.5, 5]).tickFormat(function(d) { return (d < 0 ? "- " : "") + d3.format(".1f")(Math.abs(d)); }).tickSize(2.2).tickPadding(2.5));
  styleAxis(xAxis, 7.4, "#555");
  var yAxis = g.append("g").attr("transform", "translate(" + left + ",0)")
    .call(d3.axisLeft(y).tickValues([0, 1, 2, 3, 4, 5]).tickFormat(d3.format("d")).tickSize(2.2).tickPadding(1.5));
  styleAxis(yAxis, 7.4, "#555");
  g.append("line").attr("x1", left).attr("x2", right).attr("y1", bottom).attr("y2", bottom).attr("stroke", "#444").attr("stroke-width", 1.2);
  g.append("line").attr("x1", left).attr("x2", left).attr("y1", top).attr("y2", bottom).attr("stroke", "#444").attr("stroke-width", 1.2);

  addText(g, cfg.titleX, cfg.titleY, cfg.title, 8.9, "#222", "middle", "bold");
  cfg.legendDot.forEach(function(dx, i) {
    g.append("circle").attr("cx", dx).attr("cy", 577.3).attr("r", 2.4).attr("fill", volcanoColors[i]);
    addText(g, cfg.legendText[i], 578.5, volcanoLegend[i], 3.3, "#333");
  });

  var xt = g.append("text").attr("x", x(0)).attr("y", 784).attr("font-size", 8).attr("text-anchor", "middle").attr("fill", "#333");
  xt.append("tspan").text("Log");
  xt.append("tspan").text("2").attr("font-size", 5.4).attr("dy", 1.8);
  xt.append("tspan").text(" fold change").attr("dy", -1.8);
  var yt = g.append("text").attr("transform", "translate(" + (left - 17.5) + ",678) rotate(-90)").attr("text-anchor", "middle")
    .attr("font-size", 8).attr("fill", "#333");
  yt.append("tspan").text("- Log");
  yt.append("tspan").text("10").attr("font-size", 5.4).attr("dy", 1.8);
  yt.append("tspan").text(" ").attr("dy", -1.8);
  yt.append("tspan").text("P").attr("font-style", "italic");
  addText(g, right, 796, cfg.total, 5.4, "#333", "end");
}

drawVolcano({
  xRange: [294.4, 461.6], yRange: [762.7, 597],
  pink: [fPinkLeft, fPinkRight], blue: [fBlueLeft, fBlueRight], green: [fGreenLeft, fGreenRight], grey: fGrey,
  up: fUp, fringe: fFringe, none: fNone, names: fNames, lx: fLabelX, ly: fLabelY, tx: fTargetX, ty: fTargetY,
  title: "GSE172042 IRI VS. Sham", titleX: 381.7, titleY: 563.3,
  legendDot: [316.7, 346.7, 377.3, 406.7], legendText: [325.3, 355, 386, 415],
  total: "total = 27281 variables"
});
drawVolcano({
  xRange: [519, 686.7], yRange: [762.3, 596.6],
  pink: [gPinkLeft, gPinkRight], blue: [gBlueLeft, gBlueRight], green: [gGreenLeft, gGreenRight], grey: gGrey, wedge: gWedge,
  up: gUp, fringe: gFringe, none: gNone, names: gNames, lx: gLabelX, ly: gLabelY, tx: gTargetX, ty: gTargetY,
  title: "GSE156181 UUO VS. Healthy", titleX: 610, titleY: 561.7,
  legendDot: [541.3, 571.3, 602, 631], legendText: [550, 580, 610.7, 640],
  total: "total = 24162 variables"
});
</script>
</body>
</html>
